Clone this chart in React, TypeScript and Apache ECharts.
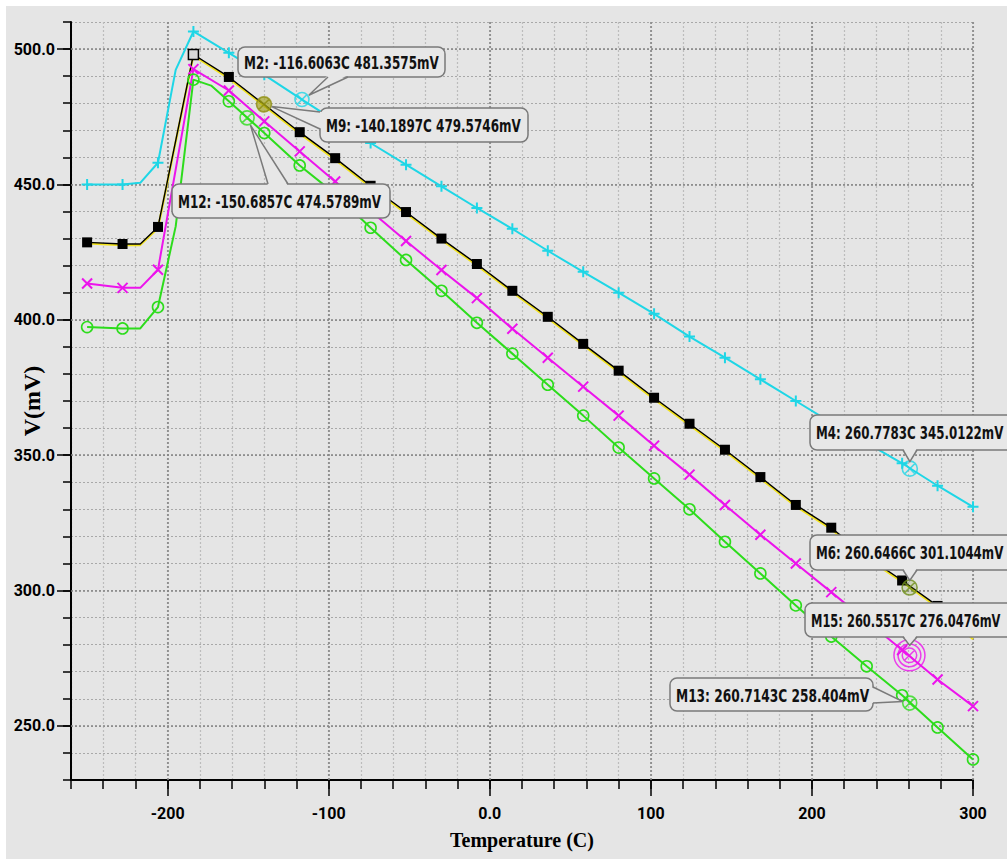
import React, { useEffect, useRef } from "react";
import * as echarts from "echarts";

// ---- data ----
const temps = [-250, -228, -206, -184, -162, -140, -118, -96, -74, -52, -30, -8, 14, 36, 58, 80, 102, 124, 146, 168, 190, 212, 234, 256, 278, 300];
const cyanV = [450.0, 450.0, 458.0, 506.5, 498.6, 490.5, 481.9, 473.5, 465.3, 457.3, 449.3, 441.3, 433.6, 425.5, 417.7, 410.0, 402.2, 393.8, 386.0, 378.0, 370.0, 362.0, 354.5, 347.0, 338.7, 330.9];
const yellowV = [428.2, 427.6, 433.8, 497.6, 489.2, 479.0, 468.8, 459.2, 449.0, 439.3, 429.5, 420.1, 410.2, 400.6, 390.6, 380.7, 370.7, 361.1, 351.5, 341.4, 331.1, 322.7, 312.0, 303.2, 293.8, 282.0];
const blackV = [428.6, 428.0, 434.3, 498.0, 489.7, 479.5, 469.3, 459.7, 449.5, 439.8, 430.0, 420.6, 410.7, 401.1, 391.1, 381.2, 371.2, 361.6, 352.0, 341.9, 331.6, 323.2, 312.5, 303.7, 294.3, 285.5];
const magentaV = [413.4, 411.8, 418.5, 492.6, 484.7, 473.3, 462.2, 451.1, 440.2, 429.1, 418.4, 408.0, 396.7, 386.0, 375.3, 364.6, 353.5, 342.8, 331.6, 320.6, 310.0, 299.4, 288.7, 278.0, 267.1, 257.3];
const greenV = [397.3, 396.8, 404.7, 488.7, 480.7, 469.0, 457.0, 446.5, 434.0, 422.1, 410.7, 398.9, 387.5, 376.0, 364.6, 352.8, 341.4, 330.0, 318.0, 306.3, 294.5, 283.0, 272.0, 261.3, 249.4, 237.6];

// extra curve bend points (no symbol drawn)
const bendTemps = [-217, -195, -173];
const cyanBend = [450.6, 492.3, null];
const yellowBend = [427.6, null, null];
const blackBend = [428.0, null, null];
const magentaBend = [411.8, null, null];
const greenBend = [396.8, 434.5, 486.5];

const cyanUnmarked = [-118];
const blackUnmarked = [-140, 234, 300];

// markers
const markerLabels = [
  "M2: -116.6063C 481.3575mV",
  "M9: -140.1897C 479.5746mV",
  "M12: -150.6857C 474.5789mV",
  "M4: 260.7783C 345.0122mV",
  "M6: 260.6466C 301.1044mV",
  "M15: 260.5517C 276.0476mV",
  "M13: 260.7143C 258.404mV",
];
const markerT = [-116.6063, -140.1897, -150.6857, 260.7783, 260.6466, 260.5517, 260.7143];
const markerV = [481.3575, 479.5746, 474.5789, 345.0122, 301.1044, 276.0476, 258.404];

// ticks
const xMajor = [-200, -100, 0, 100, 200, 300];
const xMajorLabels = ["-200", "-100", "0.0", "100", "200", "300"];
const yMajor = [250, 300, 350, 400, 450, 500];
const yMajorLabels = ["250.0", "300.0", "350.0", "400.0", "450.0", "500.0"];

// ---- styles ----
const BG = "#e5e5e5";
const CYAN = "#1ed6e6";
const YELLOW = "#f2e21a";
const MAGENTA = "#ec14ec";
const GREEN = "#2ddc1c";
const OLIVE = "#8f8f12";

const plusPath = "path://M5,0L5,10M0,5L10,5";
const crossPath = "path://M0,0L10,10M10,0L0,10";
const ringX = "path://M10,0A10,10,0,1,1,10,20A10,10,0,1,1,10,0ZM2.93,2.93L17.07,17.07M17.07,2.93L2.93,17.07";
const multiRing =
  "path://M15,0A15,15,0,1,1,15,30A15,15,0,1,1,15,0ZM15,4A11,11,0,1,1,15,26A11,11,0,1,1,15,4ZM15,8A7,7,0,1,1,15,22A7,7,0,1,1,15,8ZM10,10L20,20M20,10L10,20";

// annotation box layout (pixels inside the chart div)
const boxes = [
  { x: 232, y: 41, w: 207, h: 30, side: "b", base: [[322, 71], [342, 71]], stop: 8, sx: 0.648 },
  { x: 314, y: 102, w: 208, h: 34, side: "l", base: [[314, 106], [314, 123]], stop: 8, sx: 0.648 },
  { x: 166, y: 178, w: 218, h: 34, side: "t", base: [[262, 178], [282, 178]], stop: 8, sx: 0.648 },
  { x: 804, y: 409, w: 215, h: 35, side: "b", base: [[897, 444], [911, 444]], stop: 7, sx: 0.64 },
  { x: 804, y: 529, w: 215, h: 35, side: "b", base: [[897, 564], [911, 564]], stop: 7, sx: 0.64 },
  { x: 799, y: 597, w: 220, h: 34, side: "b", base: [[897, 631], [911, 631]], stop: 10, sx: 0.62 },
  { x: 664, y: 672, w: 203, h: 33, side: "r", base: [[867, 681], [867, 697]], stop: 7, sx: 0.66 },
];

function buildData(vals: number[], bend: (number | null)[], unmarked: number[], special?: Record<number, any>) {
  const pts: any[] = [];
  temps.forEach((t, i) => {
    const item: any = { value: [t, vals[i]] };
    if (unmarked.includes(t)) item.symbol = "none";
    if (special && special[t]) Object.assign(item, special[t]);
    pts.push(item);
  });
  bendTemps.forEach((t, i) => {
    const v = bend[i];
    if (v !== null) pts.push({ value: [t, v], symbol: "none" });
  });
  pts.sort((a, b) => a.value[0] - b.value[0]);
  return pts;
}

export default function App() {
  const ref = useRef<HTMLDivElement>(null);

  useEffect(() => {
    const chart = echarts.init(ref.current!, null, { renderer: "svg" });
    const tickFont = { fontFamily: "Roboto", fontSize: 16, fontWeight: "bold" as const, color: "#000" };
    const option: any = {
      animation: false,
      backgroundColor: BG,
      grid: { left: 65, top: 16, right: 34, bottom: 79 },
      xAxis: [
        {
          type: "value", min: -260, max: 300, interval: 20, position: "bottom",
          axisLine: { show: true, onZero: false, lineStyle: { color: "#000", width: 2 } },
          axisTick: { show: true, length: 9, lineStyle: { color: "#000", width: 1.5 } },
          axisLabel: { show: false },
          splitLine: { show: true, lineStyle: { color: "#bcbcbc", width: 1.2, type: [2, 2] } },
          name: "Temperature (C)", nameLocation: "middle", nameGap: 50,
          nameTextStyle: { fontFamily: '"Liberation Serif", serif', fontWeight: "bold", fontSize: 20, color: "#000" },
        },
        {
          type: "value", min: -260, max: 300, position: "bottom",
          axisLine: { show: false, onZero: false },
          axisTick: { show: true, customValues: xMajor, length: 16, lineStyle: { color: "#000", width: 1.5 } },
          axisLabel: {
            show: true, customValues: xMajor, margin: 25, ...tickFont,
            formatter: (v: number) => { const k = xMajor.indexOf(v); return k >= 0 ? xMajorLabels[k] : ""; },
          },
          splitLine: { show: false },
        },
      ],
      yAxis: [
        {
          type: "value", min: 230, max: 510, interval: 10, position: "left",
          axisLine: { show: true, onZero: false, lineStyle: { color: "#000", width: 2 } },
          axisTick: { show: true, length: 8, lineStyle: { color: "#000", width: 1.5 } },
          axisLabel: { show: false },
          splitLine: { show: true, lineStyle: { color: "#a8a8a8", width: 1.2, type: [2, 2] } },
          name: "V(mV)", nameLocation: "middle", nameGap: 27,
          nameTextStyle: { fontFamily: '"Liberation Serif", serif', fontWeight: "bold", fontSize: 24, color: "#000" },
        },
        {
          type: "value", min: 230, max: 510, position: "left",
          axisLine: { show: false, onZero: false },
          axisTick: { show: true, customValues: yMajor, length: 14, lineStyle: { color: "#000", width: 1.5 } },
          axisLabel: {
            show: true, customValues: yMajor, margin: 16, ...tickFont,
            formatter: (v: number) => { const k = yMajor.indexOf(v); return k >= 0 ? yMajorLabels[k] : ""; },
          },
          splitLine: { show: false },
        },
      ],
      series: [
        {
          type: "line", data: [], z: 1, silent: true,
          markLine: {
            silent: true, z: 1, symbol: ["none", "none"], label: { show: false }, animation: false,
            emphasis: { disabled: true },
            lineStyle: { color: "#858585", width: 1.6, type: [2, 2] },
            data: [...xMajor.map((x) => ({ xAxis: x })), ...yMajor.map((y) => ({ yAxis: y }))],
          },
        },
        {
          type: "line", data: buildData(cyanV, cyanBend, cyanUnmarked), symbol: plusPath, symbolSize: 11,
          lineStyle: { color: CYAN, width: 2 }, itemStyle: { color: CYAN, borderColor: CYAN, borderWidth: 2 }, z: 2,
        },
        {
          type: "line", data: buildData(yellowV, yellowBend, temps), symbol: "none",
          lineStyle: { color: YELLOW, width: 2.2 }, itemStyle: { color: YELLOW }, z: 2,
        },
        {
          type: "line",
          data: buildData(blackV, blackBend, blackUnmarked, {
            [-184]: { itemStyle: { color: "#d8d8d8", borderColor: "#000", borderWidth: 1.5 } },
          }),
          symbol: "rect", symbolSize: 10,
          lineStyle: { color: "#000", width: 1.4 }, itemStyle: { color: "#000" }, z: 2,
        },
        {
          type: "line", data: buildData(magentaV, magentaBend, []), symbol: crossPath, symbolSize: 10,
          lineStyle: { color: MAGENTA, width: 2 }, itemStyle: { color: MAGENTA, borderColor: MAGENTA, borderWidth: 2 }, z: 2,
        },
        {
          type: "line", data: buildData(greenV, greenBend, []), symbol: "circle", symbolSize: 11,
          lineStyle: { color: GREEN, width: 2 }, itemStyle: { color: "rgba(0,0,0,0)", borderColor: GREEN, borderWidth: 1.6 }, z: 2,
        },
        {
          type: "scatter", z: 4, silent: true,
          data: markerT.map((t, i) => {
            const styles = [
              { symbol: ringX, symbolSize: 14, itemStyle: { color: "rgba(0,0,0,0)", borderColor: CYAN, borderWidth: 1.6 } },
              { symbol: ringX, symbolSize: 15, itemStyle: { color: "rgba(160,160,20,0.8)", borderColor: OLIVE, borderWidth: 1.6 } },
              { symbol: ringX, symbolSize: 14, itemStyle: { color: "rgba(0,0,0,0)", borderColor: GREEN, borderWidth: 1.6 } },
              { symbol: ringX, symbolSize: 15, itemStyle: { color: "rgba(0,0,0,0)", borderColor: CYAN, borderWidth: 1.6 } },
              { symbol: ringX, symbolSize: 15, itemStyle: { color: "rgba(120,150,30,0.25)", borderColor: "#6f8f1a", borderWidth: 1.6 } },
              { symbol: multiRing, symbolSize: 31, itemStyle: { color: "rgba(0,0,0,0)", borderColor: MAGENTA, borderWidth: 1.5 } },
              { symbol: ringX, symbolSize: 14, itemStyle: { color: "rgba(0,0,0,0)", borderColor: GREEN, borderWidth: 1.6 } },
            ];
            return { value: [t, markerV[i]], ...styles[i] };
          }),
        },
      ],
    };
    chart.setOption(option);

    const els: any[] = [];
    const boxFill = "#e7e7e7";
    const edge = "#7a7a7a";
    boxes.forEach((b, i) => {
      const p = chart.convertToPixel({ xAxisIndex: 0, yAxisIndex: 0 }, [markerT[i], markerV[i]]) as number[];
      const bmx = (b.base[0][0] + b.base[1][0]) / 2;
      const bmy = (b.base[0][1] + b.base[1][1]) / 2;
      const dx = bmx - p[0], dy = bmy - p[1];
      const d = Math.hypot(dx, dy) || 1;
      const tip = [p[0] + (dx / d) * b.stop, p[1] + (dy / d) * b.stop];
      const inw: Record<string, number[]> = { b: [0, -2], t: [0, 2], l: [2, 0], r: [-2, 0] };
      const iv = inw[b.side];
      els.push({ type: "rect", silent: true, z: 100, shape: { x: b.x, y: b.y, width: b.w, height: b.h, r: 7 }, style: { fill: boxFill, stroke: edge, lineWidth: 1.5 } });
      els.push({
        type: "polygon", silent: true, z: 101,
        shape: { points: [[b.base[0][0] + iv[0], b.base[0][1] + iv[1]], tip, [b.base[1][0] + iv[0], b.base[1][1] + iv[1]]] },
        style: { fill: boxFill },
      });
      els.push({ type: "polyline", silent: true, z: 102, shape: { points: [b.base[0], tip, b.base[1]] }, style: { stroke: edge, lineWidth: 1.5, fill: null } });
      els.push({
        type: "text", silent: true, z: 103, x: b.x + 6, y: b.y + b.h / 2 + 1, scaleX: b.sx,
        style: { text: markerLabels[i], fontSize: 18.5, fontWeight: "bold", fontFamily: '"DejaVu Sans"', fill: "#111", verticalAlign: "middle" },
      });
    });
    chart.setOption({ graphic: els });

    return () => chart.dispose();
  }, []);

  return (
    <div
      ref={ref}
      style={{ position: "fixed", left: 6, top: 6, width: 1001, height: 853, background: BG }}
    />
  );
}
